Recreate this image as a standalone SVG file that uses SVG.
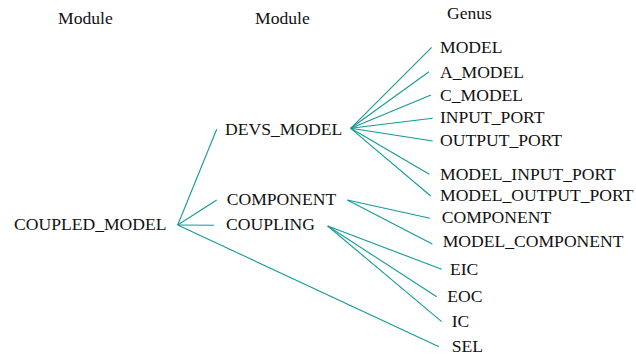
<svg xmlns="http://www.w3.org/2000/svg" width="636" height="360" viewBox="0 0 636 360">
<style>
text{font-family:"Liberation Serif","Times New Roman",serif;font-size:17.6px;fill:#111}
.c line{stroke:#169999;stroke-width:1.1;fill:none}
</style>
<rect width="636" height="360" fill="#fff"/>
<g id="headers">
<text x="58" y="24">Module</text>
<text x="255" y="24">Module</text>
<text x="447" y="18.5">Genus</text>
</g>
<g class="c" id="connectors">
<line x1="177.7" y1="225" x2="216.7" y2="129.3"/>
<line x1="177.7" y1="225" x2="216.7" y2="200"/>
<line x1="177.7" y1="225" x2="214" y2="225.3"/>
<line x1="177.7" y1="225" x2="439" y2="346.7"/>
<line x1="350.7" y1="128.3" x2="431.7" y2="47.3"/>
<line x1="350.7" y1="128.3" x2="429" y2="71.7"/>
<line x1="350.7" y1="128.3" x2="431" y2="95"/>
<line x1="350.7" y1="128.3" x2="432.7" y2="118.3"/>
<line x1="350.7" y1="128.3" x2="432.7" y2="141"/>
<line x1="350.7" y1="128.3" x2="429.3" y2="174.3"/>
<line x1="350.7" y1="128.3" x2="430.7" y2="196"/>
<line x1="347.3" y1="200" x2="430" y2="218.3"/>
<line x1="347.3" y1="200" x2="432.3" y2="244"/>
<line x1="327.7" y1="226" x2="441.7" y2="269.3"/>
<line x1="327.7" y1="226" x2="436.7" y2="296.7"/>
<line x1="327.7" y1="226" x2="441.7" y2="321.7"/>
</g>
<g id="coupled_model"><text x="14" y="230">COUPLED_MODEL</text></g>
<g id="devs_model"><text x="225" y="135">DEVS_MODEL</text></g>
<g id="component_module"><text x="226.7" y="205">COMPONENT</text></g>
<g id="coupling"><text x="226" y="230">COUPLING</text></g>
<g id="model"><text x="440" y="52.7">MODEL</text></g>
<g id="a_model"><text x="440" y="77.7">A_MODEL</text></g>
<g id="c_model"><text x="440" y="101">C_MODEL</text></g>
<g id="input_port"><text x="440" y="123.3">INPUT_PORT</text></g>
<g id="output_port"><text x="440" y="146">OUTPUT_PORT</text></g>
<g id="model_input_port"><text x="440" y="180">MODEL_INPUT_PORT</text></g>
<g id="model_output_port"><text x="440" y="201">MODEL_OUTPUT_PORT</text></g>
<g id="component_genus"><text x="441.7" y="222.7">COMPONENT</text></g>
<g id="model_component"><text x="442.7" y="247.3">MODEL_COMPONENT</text></g>
<g id="eic"><text x="450" y="275">EIC</text></g>
<g id="eoc"><text x="447.3" y="302.3">EOC</text></g>
<g id="ic"><text x="451.7" y="327.3">IC</text></g>
<g id="sel"><text x="451.7" y="351.7">SEL</text></g>
</svg>
